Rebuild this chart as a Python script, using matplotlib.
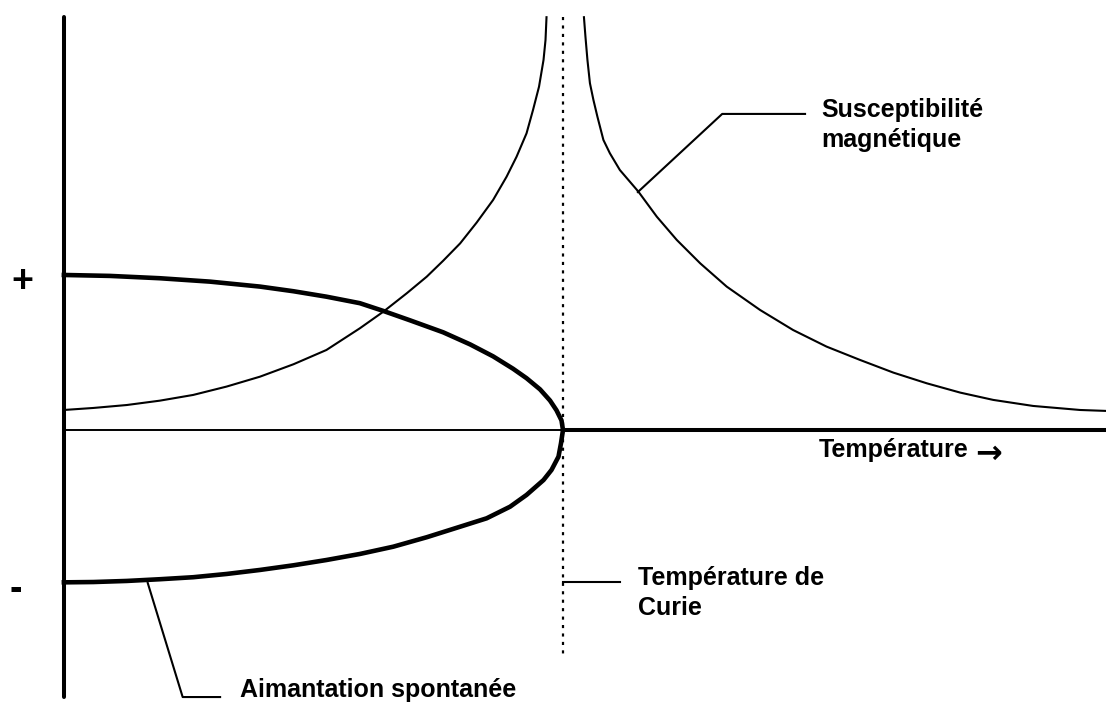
import matplotlib
matplotlib.use("Agg")
import matplotlib.pyplot as plt

# reduced units: T/Tc on x, M/M0 on y (schematic)
# spontaneous magnetisation, upper and lower branches
m_up_T = [0.0, 0.092, 0.192, 0.293, 0.393, 0.460, 0.526, 0.593, 0.640, 0.693,
          0.760, 0.814, 0.860, 0.900, 0.927, 0.954, 0.974, 0.987, 0.997, 1.0]
m_up_M = [1.0, 0.994, 0.979, 0.957, 0.925, 0.895, 0.860, 0.818, 0.768, 0.708,
          0.630, 0.552, 0.475, 0.395, 0.334, 0.262, 0.190, 0.127, 0.062, 0.0]
m_lo_T = [1.0, 0.996, 0.991, 0.977, 0.961, 0.927, 0.894, 0.847, 0.794, 0.727,
          0.660, 0.593, 0.526, 0.460, 0.393, 0.326, 0.259, 0.192, 0.126, 0.059, 0.0]
m_lo_M = [0.0, -0.086, -0.172, -0.258, -0.323, -0.419, -0.495, -0.570, -0.624, -0.692,
          -0.753, -0.800, -0.839, -0.873, -0.903, -0.929, -0.950, -0.963, -0.974, -0.981, -0.983]

# magnetic susceptibility, below and above Tc
chi_lo_T = [0.0, 0.059, 0.126, 0.192, 0.259, 0.326, 0.393, 0.460, 0.526, 0.593,
            0.640, 0.687, 0.727, 0.760, 0.794, 0.827, 0.860, 0.887, 0.907, 0.927,
            0.940, 0.952, 0.961, 0.965, 0.967]
chi_lo_Y = [0.129, 0.142, 0.161, 0.189, 0.226, 0.280, 0.344, 0.424, 0.516, 0.656,
            0.763, 0.882, 0.989, 1.092, 1.204, 1.338, 1.484, 1.634, 1.763, 1.914,
            2.065, 2.215, 2.387, 2.516, 2.663]
chi_hi_T = [1.042, 1.045, 1.049, 1.054, 1.061, 1.069, 1.081, 1.094, 1.114, 1.151,
            1.188, 1.228, 1.275, 1.328, 1.395, 1.461, 1.528, 1.595, 1.662, 1.729,
            1.796, 1.862, 1.942, 2.036, 2.088]
chi_hi_Y = [2.663, 2.538, 2.387, 2.237, 2.129, 2.021, 1.871, 1.785, 1.677, 1.538,
            1.376, 1.226, 1.075, 0.925, 0.774, 0.645, 0.538, 0.452, 0.370, 0.301,
            0.241, 0.194, 0.155, 0.129, 0.123]

Tc = 1.0
T_max = 2.088
y_top, y_bot = 2.665, -1.723

# leader lines
lead_chi_T = [1.150, 1.319, 1.485]
lead_chi_Y = [1.535, 2.039, 2.039]
lead_m_T = [0.168, 0.238, 0.313]
lead_m_Y = [-0.987, -1.723, -1.723]
lead_tc_T = [1.0, 1.114]
lead_tc_Y = [-0.981, -0.981]

fig = plt.figure(figsize=(11.06, 7.02), dpi=100)
ax = fig.add_axes([0, 0, 1, 1])
ax.set_xlim(-0.128, 2.088)
ax.set_ylim(-1.755, 2.774)
ax.axis('off')

# axes of the schematic
ax.plot([0, 0], [y_bot, y_top], color='black', lw=2.9, solid_capstyle='round')
ax.plot([0, Tc], [0, 0], color='black', lw=1.4)
ax.plot([Tc, T_max], [0, 0], color='black', lw=2.9)
ax.plot([Tc, Tc], [y_top, -1.471], color='black', lw=1.6,
        linestyle=(0, (1.4, 2.4)), dash_capstyle='butt')

ax.plot(chi_lo_T, chi_lo_Y, color='black', lw=1.5)
ax.plot(chi_hi_T, chi_hi_Y, color='black', lw=1.5)
ax.plot(m_up_T + m_lo_T, m_up_M + m_lo_M, color='black', lw=3.3,
        solid_joinstyle='round')

for lt, ly in [(lead_chi_T, lead_chi_Y), (lead_m_T, lead_m_Y), (lead_tc_T, lead_tc_Y)]:
    ax.plot(lt, ly, color='black', lw=1.5)

fam = ['Liberation Sans', 'DejaVu Sans']
kw = dict(fontsize=18, fontweight='bold', family=fam, va='baseline', ha='left')
ax.text(1.517, 2.019, 'Susceptibilité', **kw)
ax.text(1.517, 1.826, 'magnétique', **kw)
ax.text(1.150, -1.0, 'Température de', **kw)
ax.text(1.150, -1.194, 'Curie', **kw)
ax.text(0.353, -1.723, 'Aimantation spontanée', **kw)
ax.text(1.513, -0.174, 'Température', **kw)
ax.text(1.825, -0.213, '\u2192', fontsize=23, fontweight='bold',
        family=['DejaVu Sans'], va='baseline', ha='left')
ax.text(-0.106, 0.890, '+', fontsize=27, fontweight='bold', family=fam, va='baseline')
ax.text(-0.108, -1.097, '-', fontsize=27, fontweight='bold', family=fam, va='baseline')

fig.savefig('out.png', dpi=100)
